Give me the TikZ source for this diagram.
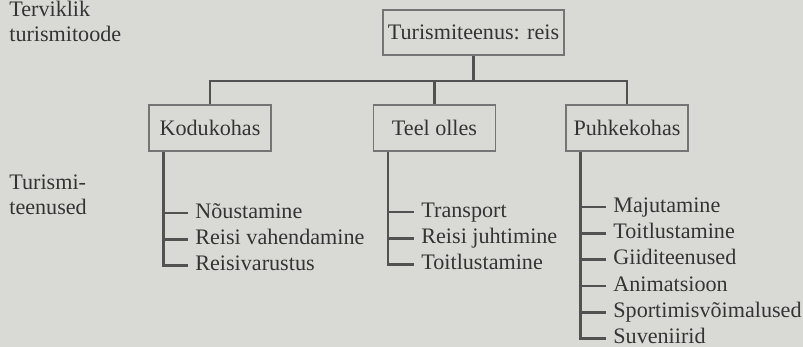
\documentclass[tikz,border=0pt]{standalone}
\usepackage{fontspec}
\setmainfont{Liberation Serif}
\usetikzlibrary{positioning}

\definecolor{paper}{RGB}{217,217,214}
\definecolor{ink}{RGB}{52,52,52}
\definecolor{rule}{RGB}{82,82,82}

\begin{document}
\begin{tikzpicture}[
  x=0.02cm, y=-0.02cm,
  font=\fontsize{12.6}{14.2}\selectfont, text=ink,
  box/.style={draw=rule!80, line width=0.7pt, minimum width=2.44cm, minimum height=0.92cm, inner sep=2pt},
  lbl/.style={align=left, inner sep=0pt, anchor=west},
  item/.style={inner xsep=4pt, inner ysep=0pt, text height=9pt, text depth=3pt, minimum height=0.512cm, anchor=west},
  link/.style={draw=rule, line width=1.5pt}
]
\fill[paper] (0,0) rectangle (803,347);
\useasboundingbox (0,0) rectangle (803,347);

% left labels
\node[lbl] (tervik) at (9,21) {Terviklik\\turismitoode};
\node[lbl] (teen) at (9,194.5) {Turismi-\\teenused};

% boxes
\node[box, minimum width=3.62cm, minimum height=0.9cm] (reis) at (473.5,32.5) {Turismiteenus: reis};
\node[box] (kodu) at (210,128) {Kodukohas};
\node[box] (teel) at (434.5,128) {Teel olles};
\node[box] (puhke) at (627,128) {Puhkekohas};

\coordinate (bar) at (0,81);
\draw[link] (reis.south) -- (reis.south |- bar);
\draw[link] (kodu.north) -- (kodu.north |- bar) -- (puhke.north |- bar) -- (puhke.north);
\draw[link] (teel.north) -- (teel.north |- bar);

% Kodukohas
\node[item] (k1) at (188,213) {Nõustamine};
\node[item, below=0pt of k1.south west, anchor=north west] (k2) {Reisi vahendamine};
\node[item, below=0pt of k2.south west, anchor=north west] (k3) {Reisivarustus};
\coordinate (kt) at ([xshift=0.3cm]kodu.south west);
\draw[link] (kt) -- (kt |- k3.west) -- (k3.west)
  (kt |- k1.west) -- (k1.west) (kt |- k2.west) -- (k2.west);

% Teel olles
\node[item] (t1) at (414,212) {Transport};
\node[item, below=0pt of t1.south west, anchor=north west] (t2) {Reisi juhtimine};
\node[item, below=0pt of t2.south west, anchor=north west] (t3) {Toitlustamine};
\coordinate (tt) at ([xshift=0.3cm]teel.south west);
\draw[link] (tt) -- (tt |- t3.west) -- (t3.west)
  (tt |- t1.west) -- (t1.west) (tt |- t2.west) -- (t2.west);

% Puhkekohas
\node[item] (p1) at (606,207) {Majutamine};
\node[item, below=0pt of p1.south west, anchor=north west] (p2) {Toitlustamine};
\node[item, below=0pt of p2.south west, anchor=north west] (p3) {Giiditeenused};
\node[item, below=0pt of p3.south west, anchor=north west] (p4) {Animatsioon};
\node[item, below=0pt of p4.south west, anchor=north west] (p5) {Sportimisvõimalused};
\node[item, below=0pt of p5.south west, anchor=north west] (p6) {Suveniirid};
\coordinate (pt) at ([xshift=0.3cm]puhke.south west);
\draw[link] (pt) -- (pt |- p6.west) -- (p6.west)
  (pt |- p1.west) -- (p1.west) (pt |- p2.west) -- (p2.west)
  (pt |- p3.west) -- (p3.west) (pt |- p4.west) -- (p4.west)
  (pt |- p5.west) -- (p5.west);
\end{tikzpicture}
\end{document}
